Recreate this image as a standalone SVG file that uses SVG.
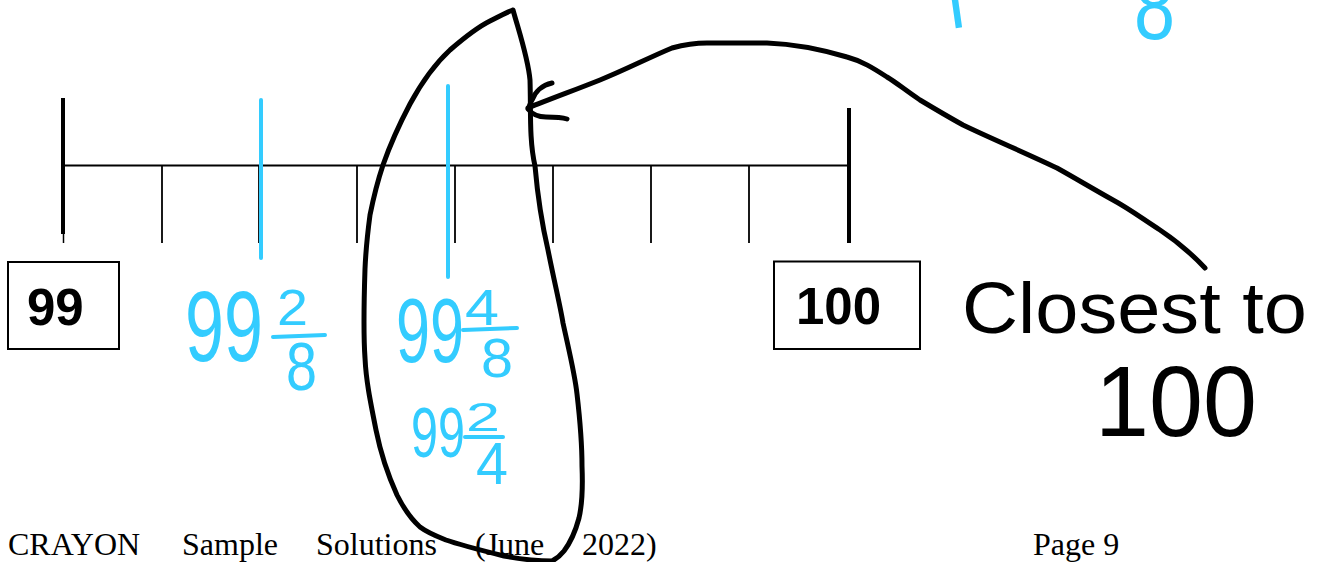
<svg xmlns="http://www.w3.org/2000/svg" width="1321" height="562" viewBox="0 0 1321 562">
<style>
.ln{stroke:#000;fill:none}
.blue{stroke:#33CCFF;stroke-width:4;stroke-linecap:round;fill:none}
.ink{stroke:#000;stroke-width:5;fill:none;stroke-linecap:round;stroke-linejoin:round}
.box{fill:#fff;stroke:#000;stroke-width:2}
.boxt{font-family:"Liberation Sans",Arial,sans-serif;font-weight:bold;font-size:51px;fill:#000}
.hb{font-family:"Liberation Sans",Arial,sans-serif;fill:#33CCFF}
.hk{font-family:"Liberation Sans",Arial,sans-serif;fill:#000}
.ft{font-family:"Liberation Serif","Times New Roman",serif;font-size:32px;fill:#000}
</style>
<rect width="1321" height="562" fill="#fff"/>
<g id="numberline">
  <line class="ln" x1="63" y1="165.5" x2="849" y2="165.5" stroke-width="2"/>
  <line class="ln" x1="63" y1="98" x2="63" y2="234" stroke-width="4"/>
  <line class="ln" x1="63.5" y1="230" x2="63.5" y2="243" stroke-width="1.5"/>
  <line class="ln" x1="849" y1="108" x2="849" y2="243" stroke-width="4"/>
  <g stroke-width="1.8">
    <line class="ln" x1="162" y1="165" x2="162" y2="243"/>
    <line class="ln" x1="259" y1="165" x2="259" y2="243"/>
    <line class="ln" x1="357" y1="165" x2="357" y2="243"/>
    <line class="ln" x1="455" y1="165" x2="455" y2="243"/>
    <line class="ln" x1="553" y1="165" x2="553" y2="243"/>
    <line class="ln" x1="651" y1="165" x2="651" y2="243"/>
    <line class="ln" x1="749" y1="165" x2="749" y2="243"/>
  </g>
</g>
<g id="blue-marks">
  <line class="blue" x1="261" y1="100" x2="261" y2="258"/>
  <line class="blue" x1="448" y1="86" x2="448" y2="277"/>
</g>
<g id="box-99">
  <rect class="box" x="8" y="262" width="111" height="87" stroke-width="1.6"/>
  <text class="boxt" x="27" y="325">99</text>
</g>
<g id="box-100">
  <rect class="box" x="774" y="261.5" width="146" height="87.5"/>
  <text class="boxt" x="796" y="324">100</text>
</g>
<g id="label-99-2-8">
  <text class="hb" x="185" y="361" font-size="100" textLength="78" lengthAdjust="spacingAndGlyphs">99</text>
  <text class="hb" x="277" y="325" font-size="50" textLength="31" lengthAdjust="spacingAndGlyphs">2</text>
  <line class="blue" x1="273" y1="337" x2="325" y2="335" stroke-width="5"/>
  <text class="hb" x="286" y="390" font-size="68" textLength="31" lengthAdjust="spacingAndGlyphs">8</text>
</g>
<g id="label-99-4-8">
  <text class="hb" x="396" y="362" font-size="90" textLength="68" lengthAdjust="spacingAndGlyphs">99</text>
  <text class="hb" x="465" y="325" font-size="50" textLength="34" lengthAdjust="spacingAndGlyphs">4</text>
  <line class="blue" x1="463" y1="330" x2="517" y2="328" stroke-width="5"/>
  <text class="hb" x="481" y="377" font-size="56" textLength="32" lengthAdjust="spacingAndGlyphs">8</text>
</g>
<g id="label-99-2-4">
  <text class="hb" x="411" y="457" font-size="70" textLength="54" lengthAdjust="spacingAndGlyphs">99</text>
  <text class="hb" x="466" y="431" font-size="40" textLength="34" lengthAdjust="spacingAndGlyphs">2</text>
  <line class="blue" x1="465" y1="437" x2="503" y2="437" stroke-width="5"/>
  <text class="hb" x="476" y="484" font-size="60" textLength="32" lengthAdjust="spacingAndGlyphs">4</text>
</g>
<g id="top-fragment">
  <text x="932" y="28" font-size="80" font-family="'Open Sans','Liberation Sans',sans-serif" fill="#33CCFF" transform="rotate(-8 956 14)">1</text>
  <text class="hb" x="1134" y="39" font-size="92" textLength="41" lengthAdjust="spacingAndGlyphs">8</text>
</g>
<g id="closest-label">
  <text class="hk" x="962" y="333" font-size="73" textLength="345" lengthAdjust="spacingAndGlyphs">Closest to</text>
  <text class="hk" x="1095" y="436" font-size="100" textLength="162" lengthAdjust="spacingAndGlyphs">100</text>
</g>
<g id="footer">
  <text class="ft" x="8" y="555">CRAYON</text>
  <text class="ft" x="182" y="555">Sample</text>
  <text class="ft" x="316" y="555">Solutions</text>
  <text class="ft" x="475" y="555">(June</text>
  <text class="ft" x="582" y="555">2022)</text>
  <text class="ft" x="1033" y="555">Page 9</text>
</g>
<g id="connectors">
  <path id="lasso" class="ink" d="M513,10 C520,35 528,58 530,80 C531,110 529,140 535,166 C538,200 541,220 548,250 C555,285 560,305 563,323 C570,355 575,375 577,394 C580,420 582,445 582,466 C583,490 582,505 579,518 C575,533 570,543 564,551 C560,556 556,559 552,561 C535,561 520,559 504,556 C480,550 460,545 446,540 C436,536 428,533 420,527 C410,518 402,505 397,495 C387,473 380,450 376,430 C370,400 366,380 365,358 C363,330 364,300 365,269 C366,245 368,230 370,215 C374,195 378,180 383,165 C390,145 400,123 410,104 C423,80 437,62 450,50 C465,37 478,27 490,21 C498,17 505,13 513,10"/>
  <path id="arrow" class="ink" d="M1205,268 C1190,252 1175,240 1160,230 C1140,217 1128,208 1113,200 C1095,190 1075,178 1057,168 C1030,155 990,138 963,125 C945,115 930,106 920,100 C905,90 897,83 887,77 C873,68 862,61 847,57 C820,49 795,44 767,43 L707,43 C693,43 683,45 672,48 C648,58 625,70 600,80 C575,90 550,99 528,108"/>
  <path id="arrowhead" class="ink" d="M552,83 C542,85 535,92 532,100 C530,104 529,107 528,109 C532,114 538,117 546,117 C555,117 561,117 567,119"/>
</g>
</svg>
